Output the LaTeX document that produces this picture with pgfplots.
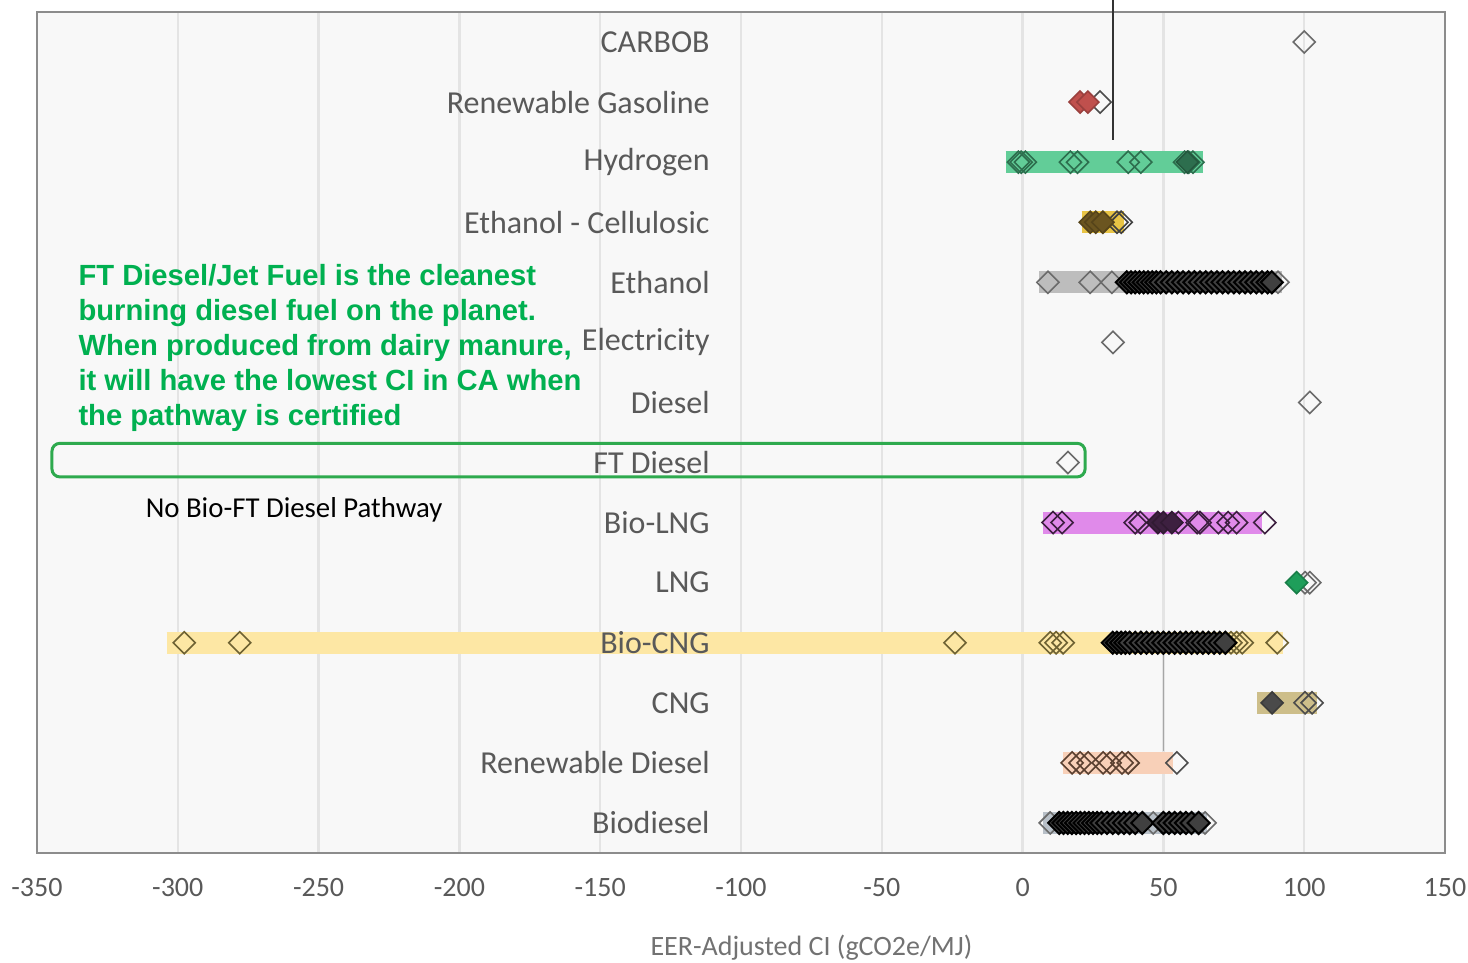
\documentclass[border=0pt]{standalone}
\usepackage{pgfplots}
\pgfplotsset{compat=1.18}
\usepackage{fontspec}
\setmainfont{Carlito}
\newfontfamily\annfont{Liberation Sans}
\definecolor{bgc}{HTML}{F8F8F8}
\definecolor{gridc}{HTML}{E4E4E4}
\definecolor{framec}{HTML}{8C8C8C}
\definecolor{labc}{HTML}{595959}
\definecolor{anng}{HTML}{00B050}
\definecolor{boxg}{HTML}{2EAA4E}
\definecolor{h2band}{HTML}{62CD98}
\definecolor{h2mk}{HTML}{2D6E4E}
\definecolor{celband}{HTML}{E8C445}
\definecolor{celmk}{HTML}{6B5520}
\definecolor{ethband}{HTML}{BDBDBD}
\definecolor{ethmk}{HTML}{6B6B6B}
\definecolor{lngband}{HTML}{E08AEA}
\definecolor{lngmk}{HTML}{3D2040}
\definecolor{lngg}{HTML}{1E9E5A}
\definecolor{cngband}{HTML}{FDE7A4}
\definecolor{cngmk}{HTML}{6E6233}
\definecolor{cngkh}{HTML}{CDBE8A}
\definecolor{rdband}{HTML}{F8D0B8}
\definecolor{rdmk}{HTML}{5A4030}
\definecolor{bdband}{HTML}{B8C0C8}
\definecolor{rgred}{HTML}{C0504D}
\definecolor{dkgray}{HTML}{4A4A4A}
\pgfplotsset{
  dm/.style={only marks, mark=square, mark size=3.9pt,
    mark options={rotate=45, line width=0.8pt, draw=#1}},
  fm/.style={only marks, mark=square*, mark size=3.9pt,
    mark options={rotate=45, line width=0.8pt, draw=#1!80!black, fill=#1}},
  dk/.style={only marks, mark=square*, mark size=3.9pt,
    mark options={rotate=45, line width=1pt, draw=black, fill=black!75}},
  band/.style={no marks, line width=11pt, line cap=butt, draw=#1},
}
\begin{document}
\begin{tikzpicture}
\useasboundingbox (-18.5pt,-55pt) rectangle (715.5pt,426.5pt);
\begin{axis}[
  scale only axis, width=704pt, height=420.5pt,
  xmin=-350, xmax=150, ymin=0.5, ymax=14.5,
  clip=false,
  axis background/.style={fill=bgc},
  axis line style={draw=framec, line width=1pt},
  xtick={-350,-300,-250,-200,-150,-100,-50,0,50,100,150},
  xticklabels={{-350},{-300},{-250},{-200},{-150},{-100},{-50},{0},{50},{100},{150}},
  xticklabel style={anchor=center, yshift=-17.5pt, text=labc, font=\fontsize{14}{16}\selectfont},
  ytick=\empty,
  major tick length=0pt,
  xmajorgrids, major grid style={draw=gridc, line width=1.2pt},
]
% extra thin lines
\addplot[no marks, draw=black!80, line width=1pt] coordinates {(32.1,12.37) (32.1,14.7)};
\addplot[no marks, draw=gray!70, line width=0.5pt] coordinates {(50,4.0) (50,2.2)};
% bands
\addplot[band=h2band] coordinates {(-6,12) (64,12)};
\addplot[band=celband] coordinates {(21,11) (36,11)};
\addplot[band=ethband] coordinates {(6,10) (92,10)};
\addplot[band=lngband] coordinates {(7.3,6) (85,6)};
\addplot[band=cngband] coordinates {(-304,4) (92.5,4)};
\addplot[band=cngkh] coordinates {(83.3,3) (104.6,3)};
\addplot[band=rdband] coordinates {(14.4,2) (53.4,2)};
\addplot[band=bdband] coordinates {(7.3,1) (65.5,1)};
% markers
\addplot[dm=ethmk] coordinates {(100,14)};
\addplot[dm=black!70] coordinates {(27.5,13)};
\addplot[fm=rgred] coordinates {(20.4,13) (23.2,13)};
\addplot[dm=h2mk] coordinates {(-1.5,12) (-0.5,12) (1,12) (17,12) (19.5,12) (37.5,12) (42,12) (57.5,12) (59,12) (60.5,12)};
\addplot[fm=h2mk] coordinates {(58.5,12)};
\addplot[dm=black!75] coordinates {(33.5,11) (35,11)};
\addplot[fm=celmk] coordinates {(24,11) (26,11) (28.5,11)};
\addplot[dm=ethmk] coordinates {(9,10) (24,10) (31.7,10) (90.7,10)};
\addplot[dk] coordinates {(37,10) (38.5,10) (40,10) (41.5,10) (43,10) (44.5,10) (46,10) (47.5,10) (49,10) (51,10) (53,10) (55,10) (57,10) (59,10) (61,10) (63,10) (65,10) (67,10) (69,10) (71,10) (73,10) (75,10) (77,10) (79,10) (81,10) (83,10) (85,10) (87,10) (88.5,10)};
\addplot[dm=ethmk] coordinates {(32.1,9)};
\addplot[dm=ethmk] coordinates {(102,8)};
\addplot[dm=ethmk] coordinates {(16.1,7)};
\addplot[dm=lngmk] coordinates {(10.8,6) (14,6) (40,6) (41.8,6) (55.3,6) (62,6) (63,6) (69.5,6) (73,6) (76,6) (86,6)};
\addplot[fm=lngmk] coordinates {(48,6) (50,6) (53,6)};
\addplot[dm=ethmk] coordinates {(100.3,5) (102,5)};
\addplot[fm=lngg] coordinates {(97.3,5)};
\addplot[dm=cngmk] coordinates {(-297.7,4) (-278,4) (-24,4) (9.8,4) (11.9,4) (14.4,4) (74,4) (76,4) (78,4) (90.4,4)};
\addplot[dk] coordinates {(32,4) (33.5,4) (35,4) (36.5,4) (38,4) (40,4) (42,4) (44,4) (46,4) (48,4) (50,4) (52,4) (54,4) (56,4) (58,4) (60,4) (62,4) (64,4) (66,4) (68,4) (70,4) (72,4)};
\addplot[fm=dkgray] coordinates {(88.6,3)};
\addplot[dm=black!70] coordinates {(100.3,3) (102.8,3)};
\addplot[dm=rdmk] coordinates {(17.6,2) (20.4,2) (23.3,2) (28.6,2) (31.1,2) (35.3,2) (37.5,2)};
\addplot[dm=black!70] coordinates {(54.8,2)};
\addplot[dm=ethmk] coordinates {(9.8,1) (46.4,1) (64.8,1)};
\addplot[dk] coordinates {(13,1) (14.5,1) (16,1) (17.5,1) (19,1) (20.5,1) (22,1) (23.5,1) (25,1) (26.5,1) (28,1) (30,1) (32,1) (34,1) (36,1) (38,1) (40,1) (42.5,1) (50,1) (52,1) (54,1) (56,1) (58,1) (60,1) (62.5,1)};
% category labels
\begin{scope}[every node/.style={anchor=east, text=labc, font=\fontsize{16}{19}\selectfont, inner sep=0pt}]
\node at (axis cs:-111,14) {CARBOB};
\node at (axis cs:-111,13) {Renewable Gasoline};
\node at (axis cs:-111,12) {Hydrogen};
\node at (axis cs:-111,11) {Ethanol - Cellulosic};
\node at (axis cs:-111,10) {Ethanol};
\node at (axis cs:-111,9) {Electricity};
\node at (axis cs:-111,8) {Diesel};
\node at (axis cs:-111,7) {FT Diesel};
\node at (axis cs:-111,6) {Bio-LNG};
\node at (axis cs:-111,5) {LNG};
\node at (axis cs:-111,4) {Bio-CNG};
\node at (axis cs:-111,3) {CNG};
\node at (axis cs:-111,2) {Renewable Diesel};
\node at (axis cs:-111,1) {Biodiesel};
\end{scope}
% annotations
\node[anchor=north west, inner sep=0pt, align=left, text=anng, font=\annfont\bfseries\fontsize{14.6}{17.5}\selectfont] at (axis cs:-335.4,10.305)
 {FT Diesel/Jet Fuel is the cleanest\\burning diesel fuel on the planet.\\When produced from dairy manure,\\it will have the lowest CI in CA when\\the pathway is certified};
\draw[boxg, line width=1.5pt, rounded corners=4pt] (axis cs:-344.7,6.76) rectangle (axis cs:22.2,7.32);
\node[inner sep=0pt, text=black, font=\fontsize{14.4}{17}\selectfont] at (axis cs:-258.7,6.21) {No Bio-FT Diesel Pathway};
\node[inner sep=0pt, text=labc!85, font=\fontsize{14}{16}\selectfont] at ([yshift=-47.5pt]axis cs:-75,0.5) {EER-Adjusted CI (gCO2e/MJ)};
\end{axis}
\end{tikzpicture}
\end{document}
